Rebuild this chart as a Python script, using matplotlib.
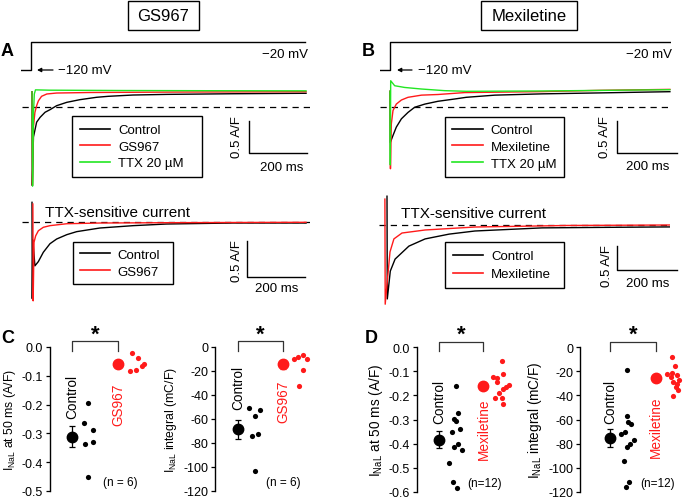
import numpy as np
import matplotlib
matplotlib.use("Agg")
import matplotlib.pyplot as plt
from matplotlib.patches import Rectangle

plt.rcParams.update({"font.family": ["Liberation Sans", "DejaVu Sans"],
                     "axes.unicode_minus": False, "mathtext.default": "regular"})

RED = "#ff1a1a"
GREEN = "#22e622"
W, H = 685, 502

# voltage protocol (ms, mV)
prot_t_A = [-35, 0, 0, 945]
prot_t_B = [-33, 0, 0, 933]
prot_v = [-120, -120, -20, -20]

# A top: raw currents (ms, A/F relative to dashed line)
ctrl_A_t = [0, 1, 5, 16, 28, 45, 62, 85, 120, 165, 223, 263, 348, 466, 693, 945]
ctrl_A_i = [0.24, -1.21, -0.46, -0.23, -0.155, -0.077, -0.037, 0.025, 0.077, 0.118,
            0.155, 0.17, 0.19, 0.20, 0.21, 0.217]
gs_A_t = [0, 1.5, 5, 10, 16, 22, 33, 51, 85, 200, 500, 945]
gs_A_i = [0.24, -1.21, -0.3, -0.08, 0.025, 0.10, 0.17, 0.206, 0.221, 0.229, 0.236, 0.241]
ttx_A_t = [0, 2, 5, 8, 12, 60, 300, 600, 945]
ttx_A_i = [0.24, -1.22, -0.1, 0.206, 0.27, 0.265, 0.26, 0.257, 0.255]

# B top
ctrl_B_t = [0, 1, 10, 21, 38, 60, 82, 116, 160, 216, 254, 350, 507, 700, 933]
ctrl_B_i = [0.25, -0.55, -0.44, -0.31, -0.18, -0.08, 0.0, 0.05, 0.094, 0.13, 0.156,
            0.19, 0.21, 0.225, 0.244]
mex_B_t = [0, 1.5, 4.4, 10, 21, 38, 60, 105, 160, 249, 507, 700, 933]
mex_B_i = [0.25, -0.96, -0.26, -0.05, 0.05, 0.114, 0.156, 0.19, 0.20, 0.23, 0.245, 0.265, 0.28]
ttx_B_t = [0, 1, 2.3, 15.6, 49, 104, 182, 254, 507, 933]
ttx_B_i = [0.25, -0.9, 0.415, 0.337, 0.31, 0.286, 0.26, 0.25, 0.255, 0.275]

# A bottom: TTX-sensitive current
ctrl_Ab_t = [0, 1, 3, 10, 22, 39, 62, 85, 120, 154, 234, 349, 464, 693, 945]
ctrl_Ab_i = [0.28, -1.07, -0.25, -0.61, -0.55, -0.42, -0.30, -0.234, -0.173, -0.131,
             -0.08, -0.047, -0.024, -0.01, -0.01]
gs_Ab_t = [3, 4, 7, 12.6, 22, 39, 62, 120, 234, 500, 945]
gs_Ab_i = [0.256, -1.10, -0.28, -0.19, -0.118, -0.07, -0.047, -0.02, -0.01, -0.005, 0.0]

# B bottom
ctrl_Bb_t = [0, 1, 11, 27, 73, 127, 207, 293, 517, 710, 943]
ctrl_Bb_i = [0.6, -1.54, -0.96, -0.71, -0.44, -0.29, -0.19, -0.125, -0.06, -0.05, -0.04]
mex_Bb_t = [-7, -6, 10, 23, 50, 127, 293, 600, 943]
mex_Bb_i = [0.54, -1.65, -0.56, -0.29, -0.167, -0.104, -0.042, -0.01, 0.0]

# C / D individual cells
c50_ctrl = [-0.195, -0.264, -0.288, -0.33, -0.337, -0.452]
c50_ctrl_x = [0.35, 0.26, 0.46, 0.46, 0.28, 0.35]
c50_gs = [-0.022, -0.038, -0.059, -0.065, -0.084, -0.08]
c50_gs_x = [1.31, 1.43, 1.57, 1.52, 1.25, 1.38]
cint_ctrl = [-51.1, -52.2, -57.8, -73.9, -72.5, -103]
cint_ctrl_x = [0.25, 0.50, 0.38, 0.32, 0.44, 0.38]
cint_gs = [-10.3, -8.6, -6.7, -10, -19.2, -32.2]
cint_gs_x = [1.25, 1.34, 1.45, 1.54, 1.45, 1.35]
d50_ctrl = [-0.16, -0.274, -0.296, -0.306, -0.338, -0.354, -0.403, -0.414, -0.428, -0.48, -0.56, -0.586]
d50_ctrl_x = [0.38, 0.42, 0.34, 0.38, 0.48, 0.29, 0.42, 0.34, 0.51, 0.23, 0.32, 0.40]
d50_mex = [-0.056, -0.111, -0.122, -0.129, -0.143, -0.157, -0.167, -0.174, -0.21, -0.211, -0.236, -0.19]
d50_mex_x = [1.42, 1.43, 1.22, 1.30, 1.30, 1.58, 1.50, 1.45, 1.42, 1.26, 1.44, 1.36]
dint_ctrl = [-18.6, -57.4, -61.9, -63.8, -70.7, -72.1, -76.8, -80.4, -82.6, -94.3, -112.3, -116.4]
dint_ctrl_x = [0.38, 0.37, 0.40, 0.45, 0.33, 0.24, 0.53, 0.44, 0.37, 0.31, 0.42, 0.34]
dint_mex = [-8.3, -15.3, -21.4, -22.2, -23, -25, -27.2, -28.6, -30.5, -33.3, -35.2, -40.2]
dint_mex_x = [1.35, 1.42, 1.35, 1.24, 1.47, 1.33, 1.52, 1.39, 1.47, 1.44, 1.49, 1.39]

fig = plt.figure(figsize=(W / 100, H / 100), dpi=100)


def px_axes(x0, y0, x1, y1):
    ax = fig.add_axes([x0 / W, 1 - y1 / H, (x1 - x0) / W, (y1 - y0) / H])
    ax.patch.set_alpha(0)
    return ax


def trace_axes(tx, sx, zy, sy, xlim, ylim):
    ax = px_axes(tx + sx * xlim[0], zy - sy * ylim[1], tx + sx * xlim[1], zy - sy * ylim[0])
    ax.set_xlim(xlim); ax.set_ylim(ylim); ax.axis("off")
    return ax


ov = px_axes(0, 0, W, H)
ov.set_xlim(0, W); ov.set_ylim(H, 0); ov.axis("off")

LEG = dict(loc="upper left", mode="expand", frameon=True, fancybox=False, edgecolor="k",
           framealpha=1, handlelength=2.3, handletextpad=0.6, borderaxespad=0,
           fontsize=9.5, bbox_transform=fig.transFigure)


def legend(ax, box, spacing, pad):
    x0, y0, x1, y1 = box
    lg = ax.legend(bbox_to_anchor=(x0 / W, 1 - y1 / H, (x1 - x0) / W, (y1 - y0) / H),
                   labelspacing=spacing, borderpad=pad, **LEG)
    lg.get_frame().set_linewidth(1.0)
    for ln in lg.get_lines():
        ln.set_linewidth(1.2)


def scalebar(ax, t, i):
    ax.plot([t, t, t + 200], [i, i - 0.5, i - 0.5], color="k", lw=1, clip_on=False)


TLW = 1.0

# ---- A top
va = trace_axes(31, 0.29, 37.8, 0.274, (-36, 968), (-130, -10))
va.plot(prot_t_A, prot_v, color="k", lw=1)
ax = trace_axes(32, 0.29, 108.3, 64.6, (-36, 968), (-1.3, 0.45))
ax.axhline(0, color="k", lw=0.9, dashes=(5, 4))
ax.plot(ctrl_A_t, ctrl_A_i, color="k", lw=TLW, label="Control")
ax.plot(gs_A_t, gs_A_i, color=RED, lw=TLW, label="GS967")
ax.plot(ttx_A_t, ttx_A_i, color=GREEN, lw=TLW, label="TTX 20 \u00b5M")
scalebar(ax, 748, -0.21)
legend(ax, (72, 117, 202, 178), 0.33, 0.6)

# ---- B top
vb = trace_axes(390, 0.30, 37.8, 0.274, (-35, 935), (-130, -10))
vb.plot(prot_t_B, prot_v, color="k", lw=1)
ax = trace_axes(390, 0.30, 108.3, 64, (-35, 935), (-1.3, 0.45))
ax.axhline(0, color="k", lw=0.9, dashes=(5, 4))
ax.plot(ctrl_B_t, ctrl_B_i, color="k", lw=TLW, label="Control")
ax.plot(mex_B_t, mex_B_i, color=RED, lw=TLW, label="Mexiletine")
ax.plot(ttx_B_t, ttx_B_i, color=GREEN, lw=TLW, label="TTX 20 \u00b5M")
scalebar(ax, 757, -0.214)
legend(ax, (445, 118, 564, 178), 0.33, 0.55)

# ---- A bottom
ax = trace_axes(32, 0.29, 223.3, 71.4, (-36, 968), (-1.2, 0.4))
ax.axhline(0, color="k", lw=0.9, dashes=(5, 4))
ax.plot(ctrl_Ab_t, ctrl_Ab_i, color="k", lw=TLW, label="Control")
ax.plot(gs_Ab_t, gs_Ab_i, color=RED, lw=TLW, label="GS967")
scalebar(ax, 741, -0.262)
legend(ax, (73, 243, 173, 284), 0.36, 0.5)

# ---- B bottom
ax = trace_axes(387, 0.30, 226, 48, (-27, 943), (-1.8, 0.7))
ax.axhline(0, color="k", lw=0.9, dashes=(5, 4))
ax.plot(ctrl_Bb_t, ctrl_Bb_i, color="k", lw=TLW, label="Control")
ax.plot(mex_Bb_t, mex_Bb_i, color=RED, lw=TLW, label="Mexiletine")
scalebar(ax, 767, -0.4375)
legend(ax, (445, 243, 564, 289), 0.44, 0.6)

# ---- overlay text
for x, y, s in [(7.5, 52, "A"), (368, 52, "B"), (7.5, 339, "C"), (371, 339, "D")]:
    ov.text(x, y, s, ha="center", va="center", fontsize=13, fontweight="bold")
for (x0, w, cx, s) in [(128, 71, 163.5, "GS967"), (481, 96, 529, "Mexiletine")]:
    ov.add_patch(Rectangle((x0, 2), w, 29, fill=False, lw=1, ec="k"))
    ov.text(cx, 16.5, s, ha="center", va="center", fontsize=12)
for xr in (308, 672):
    ov.text(xr, 55, "\u221220 mV", ha="right", va="center", fontsize=9.5)
for (xa, xb, xt) in [(37, 53, 58), (397, 412, 418)]:
    ov.annotate("", xy=(xa, 71), xytext=(xb, 71),
                arrowprops=dict(arrowstyle="-|>", lw=0.9, color="k", mutation_scale=6,
                                shrinkA=0, shrinkB=0))
    ov.text(xt, 71, "\u2212120 mV", ha="left", va="center", fontsize=9.5)
for (x, y) in [(237, 137), (605, 137), (237.5, 261), (607.5, 266)]:
    ov.text(x, y, "0.5 A/F", rotation=90, ha="center", va="center", fontsize=9.5)
for (x, y) in [(282, 168), (647.5, 167), (276.5, 289), (647.5, 284.5)]:
    ov.text(x, y, "200 ms", ha="center", va="center", fontsize=9.5)
ov.text(45, 213, "TTX-sensitive current", ha="left", va="center", fontsize=11)
ov.text(401, 214, "TTX-sensitive current", ha="left", va="center", fontsize=11)


# ---- dot panels
def dot_panel(box, xlim, ylim, ticks, fmt, ylabel, lfs, ctrl, ctrl_x, drug, drug_x, drug_name,
              br, star_y, ntext, n_xy, lab_y):
    ax = px_axes(*box)
    ax.set_xlim(xlim); ax.set_ylim(ylim)
    for s in ("top", "right", "bottom"):
        ax.spines[s].set_visible(False)
    ax.spines["left"].set_linewidth(1.0)
    ax.set_xticks([])
    ax.set_yticks(ticks)
    ax.set_yticklabels([fmt.format(v) for v in ticks])
    ax.tick_params(axis="y", direction="out", length=3, width=0.9, labelsize=9, pad=2)
    ax.set_ylabel(ylabel, fontsize=lfs, labelpad=3)
    for vals, xs, col, xm in [(ctrl, ctrl_x, "k", 0), (drug, drug_x, RED, 1)]:
        v = np.array(vals)
        ax.scatter(xs, v, s=14, color=col, lw=0, clip_on=False, zorder=3)
        ax.errorbar(xm, v.mean(), yerr=v.std(ddof=1) / np.sqrt(len(v)), fmt="o", ms=7.5,
                    color=col, ecolor=col, elinewidth=0.9, capsize=2.5, capthick=0.9,
                    clip_on=False, zorder=4)
    top, leg = br
    ax.plot([0, 0, 1, 1], [leg, top, top, leg], color="#333333", lw=0.9, clip_on=False)
    ax.text(0.5, star_y, "*", ha="center", va="center", fontsize=16, fontweight="bold")
    ax.text(0, lab_y[0], "Control", rotation=90, ha="center", va="center", fontsize=9.8)
    ax.text(1, lab_y[1], drug_name, rotation=90, ha="center", va="center", fontsize=9.8,
            color=RED)
    ax.text(n_xy[0], n_xy[1], ntext, ha="center", va="center", fontsize=8.5)
    return ax


lab50 = r"I$_{NaL}$ at 50 ms (A/F)"
labint = r"I$_{NaL}$ integral (mC/F)"
dot_panel((50, 348, 150.3, 492), (-0.48, 1.7), (-0.5, 0), [0, -0.1, -0.2, -0.3, -0.4, -0.5],
          "{:.1f}", lab50, 8.8, c50_ctrl, c50_ctrl_x, c50_gs, c50_gs_x, "GS967",
          (0.021, -0.014), 0.045, "(n = 6)", (1.04, -0.469), (-0.17, -0.198))
dot_panel((215, 348, 314.5, 492), (-0.51, 1.7), (-120, 0), [0, -20, -40, -60, -80, -100, -120],
          "{:.0f}", labint, 8.8, cint_ctrl, cint_ctrl_x, cint_gs, cint_gs_x, "GS967",
          (5, -3.3), 11, "(n = 6)", (1.0, -112.5), (-33.6, -44.7))
dot_panel((417, 348.3, 514.5, 492.7), (-0.5, 1.7), (-0.6, 0),
          [0, -0.1, -0.2, -0.3, -0.4, -0.5, -0.6], "{:.1f}", lab50, 9.8,
          d50_ctrl, d50_ctrl_x, d50_mex, d50_mex_x, "Mexiletine",
          (0.023, -0.014), 0.055, "(n=12)", (1.03, -0.564), (-0.222, -0.337))
dot_panel((580, 348.3, 683, 492.7), (-0.66, 1.6), (-120, 0), [0, -20, -40, -60, -80, -100, -120],
          "{:.0f}", labint, 9.8, dint_ctrl, dint_ctrl_x, dint_mex, dint_mex_x, "Mexiletine",
          (4.65, -2.8), 11, "(n=12)", (1.04, -113), (-44.4, -65.2))

fig.savefig("out.png", dpi=100)
